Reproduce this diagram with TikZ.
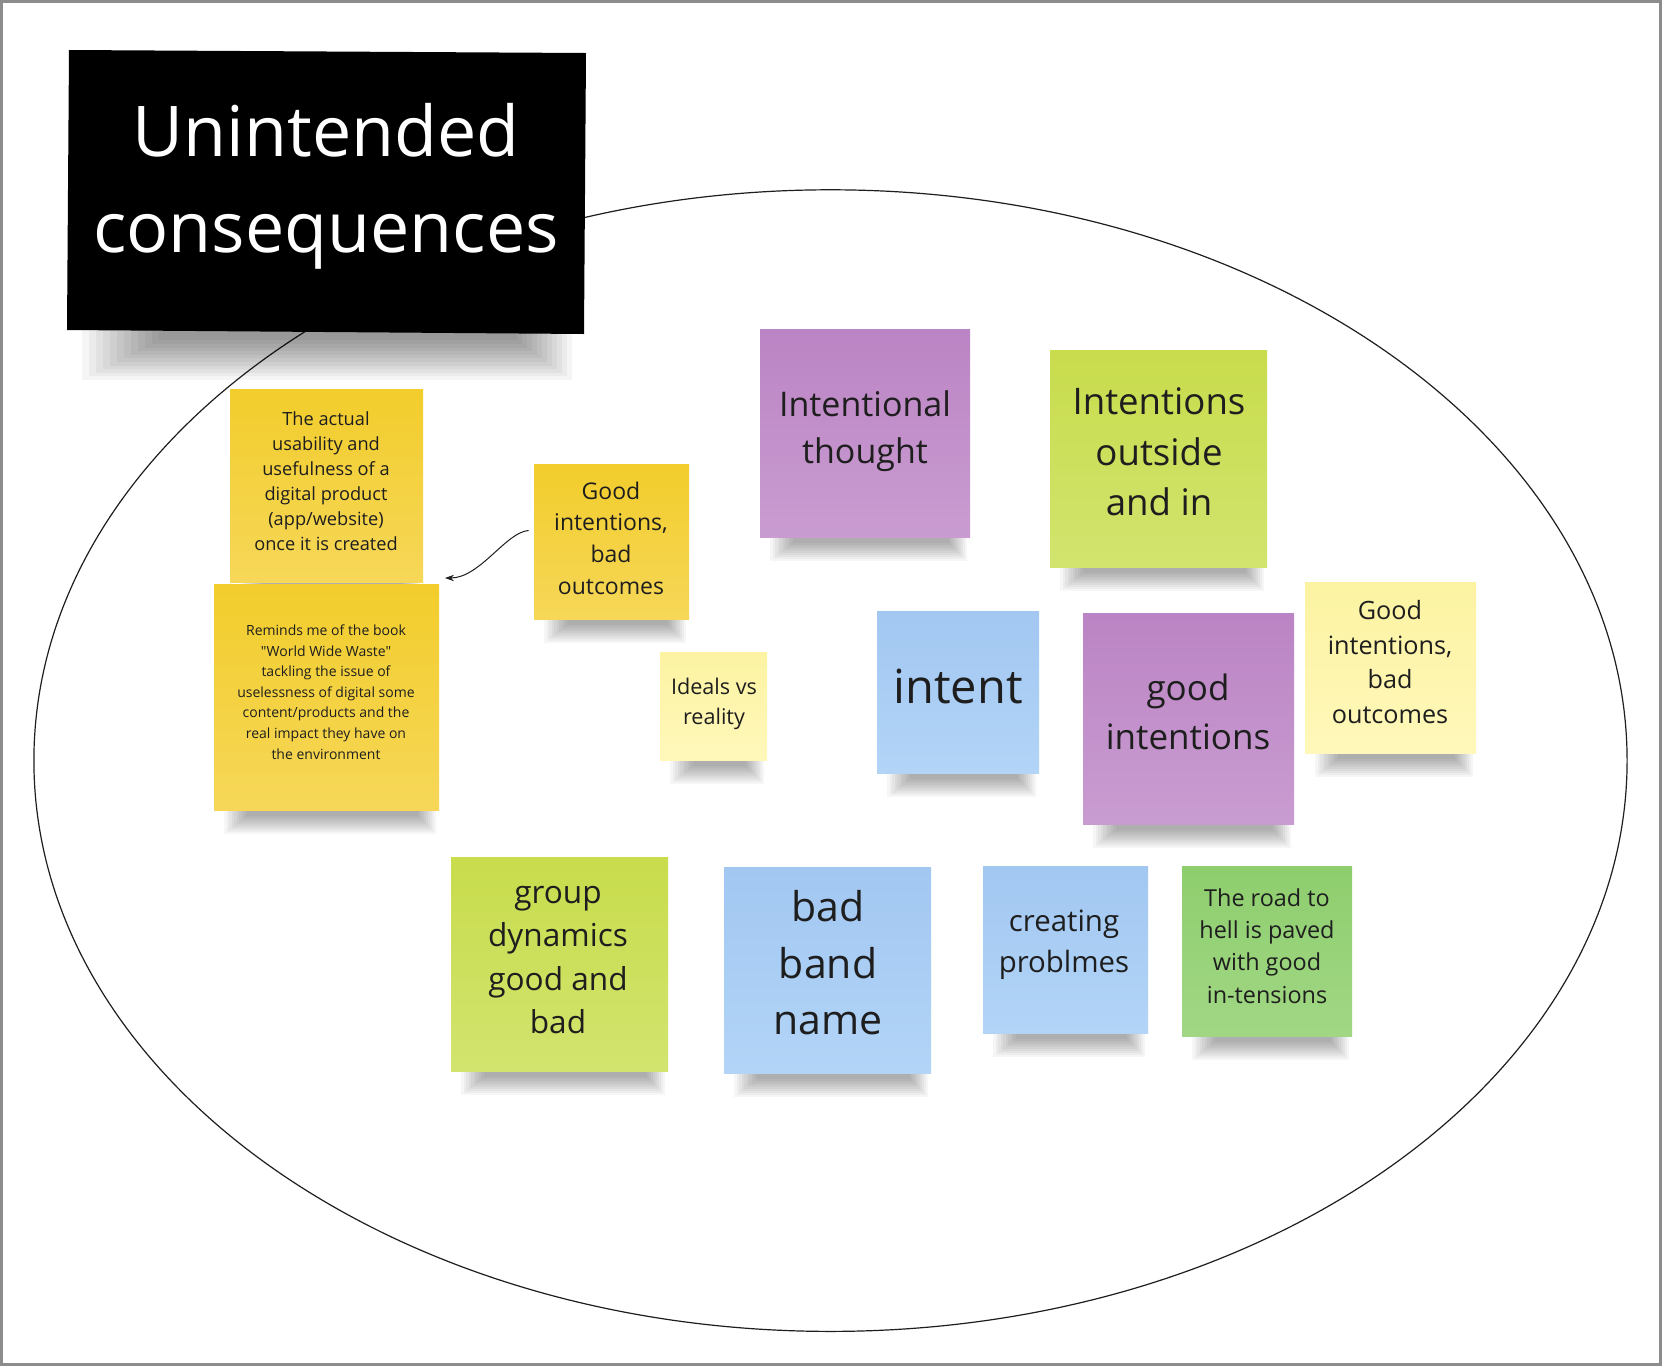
\documentclass[tikz,border=0pt]{standalone}
\usepackage{fontspec}
\setmainfont{Open Sans}[Ligatures=TeXOff]
\usetikzlibrary{arrows.meta,fit,calc,shapes.geometric}
\definecolor{txt}{HTML}{1E1E1E}
\definecolor{frame}{HTML}{8C8C8C}
\definecolor{yT}{HTML}{F2CD2C}\definecolor{yB}{HTML}{F6D758}
\definecolor{lyT}{HTML}{FCF3A2}\definecolor{lyB}{HTML}{FFF8BA}
\definecolor{pT}{HTML}{BB84C4}\definecolor{pB}{HTML}{C99CD1}
\definecolor{gT}{HTML}{C8DC4C}\definecolor{gB}{HTML}{D2E46E}
\definecolor{bT}{HTML}{A2C7F1}\definecolor{bB}{HTML}{B2D4F7}
\definecolor{dgT}{HTML}{8ECE6E}\definecolor{dgB}{HTML}{A1D784}
\tikzset{
  lbl/.style={align=center,text=txt,inner sep=0pt},
  notebox/.style={inner sep=0pt},
  shadowlayer/.style={black,opacity=0.035},
}
\newcommand{\fs}[1]{\fontsize{#1}{1.38\dimexpr #1pt\relax}\selectfont}
\newcommand{\sticky}[7]{%
  \foreach \i in {0,...,9}{%
    \fill[shadowlayer] (#2+10+2.5*\i,#5-2) rectangle (#4-3-2*\i,#5+24-2*\i);
  }
  \path[top color=#6,bottom color=#7] (#2,#3) rectangle (#4,#5);
  \node[notebox,fit={(#2,#3) (#4,#5)}] (#1) {};
}
\begin{document}
\begin{tikzpicture}[x=0.5pt,y=-0.5pt]
\useasboundingbox (0,0) rectangle (1662,1366);
\fill[white] (0,0) rectangle (1662,1366);
\draw[frame,line width=1.5pt] (1.5,1.5) rectangle (1660.5,1364.5);

% ellipse
\node[draw=txt,line width=0.6pt,ellipse,minimum width=796.6pt,minimum height=570.8pt,inner sep=0pt] (oval) at (830.5,760.6) {};

% title
\foreach \i in {0,...,11}{%
  \fill[black,opacity=0.04] (82+7*\i,330) rectangle (572-5*\i,380-3.6*\i);
}
\fill[black] (69,50) -- (586,53) -- (584,334) -- (67,330) -- cycle;
\node[notebox,fit={(69,50) (585,332)}] (title) {};
\node[lbl,text=white,anchor=base,font=\fs{35}] (title1) at (326,156) {Unintended};
\node[lbl,text=white,anchor=base,font=\fs{35}] (title2) at (326,252) {consequences};

% notes
\sticky{nA}{230}{389}{423}{582}{yT}{yB}
\sticky{nB}{214}{584}{439}{810}{yT}{yB}
\sticky{nC}{534}{464}{689}{619}{yT}{yB}
\sticky{nD}{660}{652}{767}{760}{lyT}{lyB}
\sticky{nE}{760}{329}{970}{537}{pT}{pB}
\sticky{nF}{1050}{350}{1267}{567}{gT}{gB}
\sticky{nG}{877}{611}{1039}{773}{bT}{bB}
\sticky{nH}{1083}{613}{1294}{824}{pT}{pB}
\sticky{nI}{1305}{582}{1476}{753}{lyT}{lyB}
\sticky{nJ}{451}{857}{668}{1071}{gT}{gB}
\sticky{nK}{724}{867}{931}{1073}{bT}{bB}
\sticky{nL}{983}{866}{1148}{1033}{bT}{bB}
\sticky{nM}{1182}{866}{1352}{1036}{dgT}{dgB}

% labels
\node[lbl,font=\fs{9.1}] (tA) at (326,481) {The actual\\usability and\\usefulness of a\\digital product\\(app/website)\\once it is created};
\node[lbl,font=\fontsize{7}{10.3}\selectfont] (tB) at (326,692) {Reminds me of the book\\"World Wide Waste"\\tackling the issue of\\uselessness of digital some\\content/products and the\\real impact they have on\\the environment};
\node[lbl,font=\fs{11.5}] (tC) at (611,538) {Good\\intentions,\\bad\\outcomes};
\node[lbl,font=\fs{10.8}] (tD) at (714,704) {Ideals vs\\reality};
\node[lbl,font=\fs{17}] (tE) at (865,431) {Intentional\\thought};
\node[lbl,font=\fs{18.3}] (tF) at (1159,452) {Intentions\\outside\\and in};
\node[lbl,font=\fs{23.5}] (tG) at (958,686) {intent};
\node[lbl,font=\fs{17.5}] (tH) at (1188,712) {good\\intentions};
\node[lbl,font=\fs{12.6}] (tI) at (1390,662) {Good\\intentions,\\bad\\outcomes};
\node[lbl,font=\fs{15.8}] (tJ) at (558,960) {group\\dynamics\\good and\\bad};
\node[lbl,font=\fs{20.5}] (tK) at (828,963) {bad\\band\\name};
\node[lbl,font=\fs{14.7}] (tL) at (1064,945) {creating\\problmes};
\node[lbl,font=\fs{11.7}] (tM) at (1267,946) {The road to\\hell is paved\\with good\\in-tensions};

% connector
\coordinate (arrstart) at ($(nC.west)+(-5,-11)$);
\coordinate (arrend) at (445,578);
\draw[txt,line width=0.5pt,-{Stealth[length=4.5pt,width=3.2pt]}] (arrstart) .. controls (506,532) and (480,578) .. (arrend);
\end{tikzpicture}
\end{document}
